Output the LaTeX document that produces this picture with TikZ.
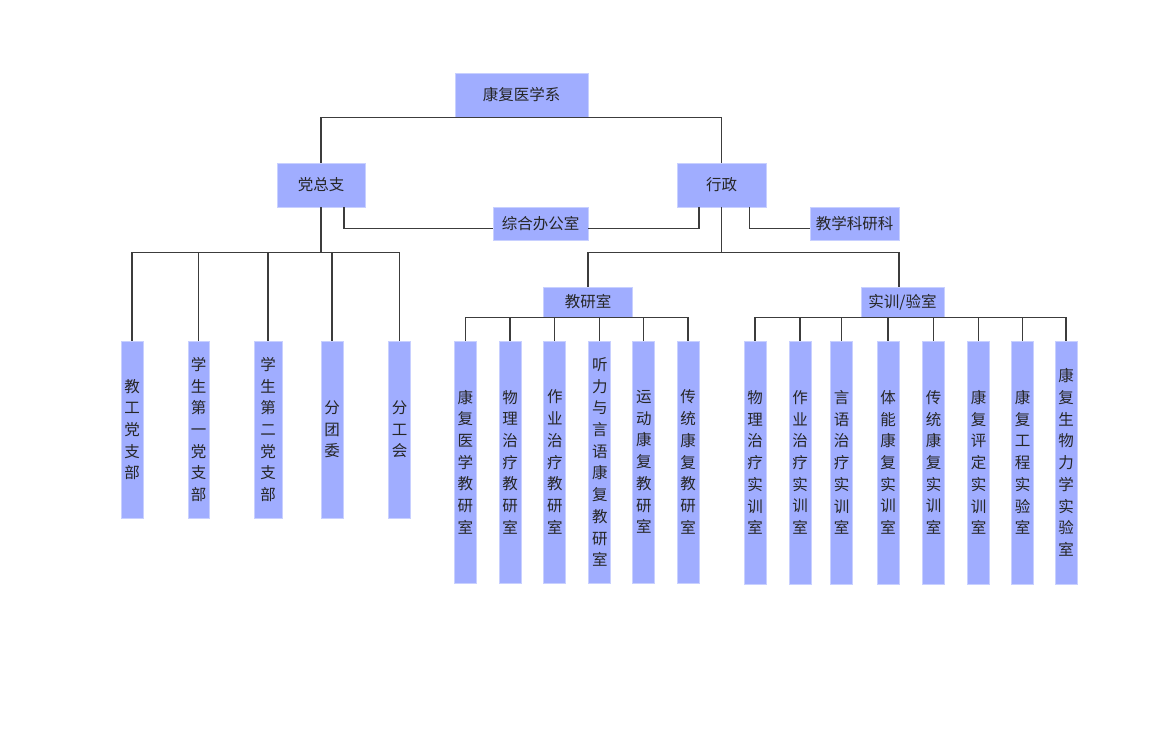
\documentclass[tikz,border=0pt]{standalone}
\usepackage{fontspec}
\setmainfont{Noto Sans CJK SC}
\usepackage{tikz}

\definecolor{boxfill}{RGB}{160,173,255}
\definecolor{boxline}{RGB}{200,208,255}
\definecolor{linkgray}{RGB}{60,60,60}

\tikzset{
  unit/.style={rectangle, fill=boxfill, draw=boxline, line width=0.8pt,
    inner sep=0pt, text=black!85, font=\fontsize{15.5}{18}\selectfont},
  column/.style={unit, minimum width=22pt, text width=16pt, align=center,
    font=\fontsize{15.5}{21.7}\selectfont},
  link/.style={draw=linkgray, line width=1.2pt}
}

\begin{document}
\begin{tikzpicture}[x=1pt, y=-1pt]
      \useasboundingbox (0,0) rectangle (1162,745);
      % upper levels
      \node [unit, minimum width=133pt, minimum height=44pt] (top) at (521.5, 95) {康复医学系};
      \node [unit, minimum width=88pt, minimum height=44pt] (dzb) at (321, 185) {党总支};
      \node [unit, minimum width=89pt, minimum height=44pt] (xz) at (721.5, 185) {行政};
      \node [unit, minimum width=95pt, minimum height=33pt] (zh) at (540.5, 223.6) {综合办公室};
      \node [unit, minimum width=89pt, minimum height=33pt] (jxky) at (854.5, 223.6) {教学科研科};
      \node [unit, minimum width=89pt, minimum height=30pt] (jys) at (588, 302) {教研室};
      \node [unit, minimum width=83pt, minimum height=30pt] (sxs) at (902.5, 302) {实训/验室};
      \draw [link] (dzb.north) |- (top.south) -| (xz.north);
      \draw [link] ([xshift=23pt]dzb.south) |- ([yshift=-5pt]zh.west);
      \draw [link] ([yshift=-5pt]zh.east) -| ([xshift=-22.5pt]xz.south);
      \draw [link] ([xshift=28pt]xz.south) |- ([yshift=-5pt]jxky.west);
      \draw [link] (xz.south) -- ++(0,45) coordinate (xzb);
      \draw [link] (jys.north) |- (xzb) -| ([xshift=-3.5pt]sxs.north);
      % party branches
      \draw [link] (dzb.south) -- ++(0,45) coordinate (dzbb);
      \foreach \i/\x/\w/\t in {1/132/22/{教\\工\\党\\支\\部},
          2/198.7/21/{学\\生\\第\\一\\党\\支\\部},
          3/268/28/{学\\生\\第\\二\\党\\支\\部},
          4/332/22/{分\\团\\委}, 5/399.5/22/{分\\工\\会}} {
        \node [column, minimum width=\w pt, minimum height=177pt] (a\i) at (\x, 429.5) {\t};
        \draw [link] (dzbb) -| (a\i.north);
      }
      % teaching offices
      \foreach \i/\x/\t in {1/465.3/{康\\复\\医\\学\\教\\研\\室},
          2/510/{物\\理\\治\\疗\\教\\研\\室},
          3/554.8/{作\\业\\治\\疗\\教\\研\\室},
          4/599.8/{听\\力\\与\\言\\语\\康\\复\\教\\研\\室},
          5/643.8/{运\\动\\康\\复\\教\\研\\室},
          6/688/{传\\统\\康\\复\\教\\研\\室}} {
        \node [column, minimum height=242pt] (b\i) at (\x, 462) {\t};
        \draw [link] (jys.south) -| (b\i.north);
      }
      % training rooms
      \foreach \i/\x/\t in {1/755/{物\\理\\治\\疗\\实\\训\\室},
          2/800/{作\\业\\治\\疗\\实\\训\\室},
          3/841.7/{言\\语\\治\\疗\\实\\训\\室},
          4/888/{体\\能\\康\\复\\实\\训\\室},
          5/933.5/{传\\统\\康\\复\\实\\训\\室},
          6/978.7/{康\\复\\评\\定\\实\\训\\室},
          7/1022.5/{康\\复\\工\\程\\实\\验\\室},
          8/1066/{康\\复\\生\\物\\力\\学\\实\\验\\室}} {
        \node [column, minimum height=243pt] (c\i) at (\x, 462.5) {\t};
        \draw [link] (sxs.south) -| (c\i.north);
      }
    \end{tikzpicture}
\end{document}
